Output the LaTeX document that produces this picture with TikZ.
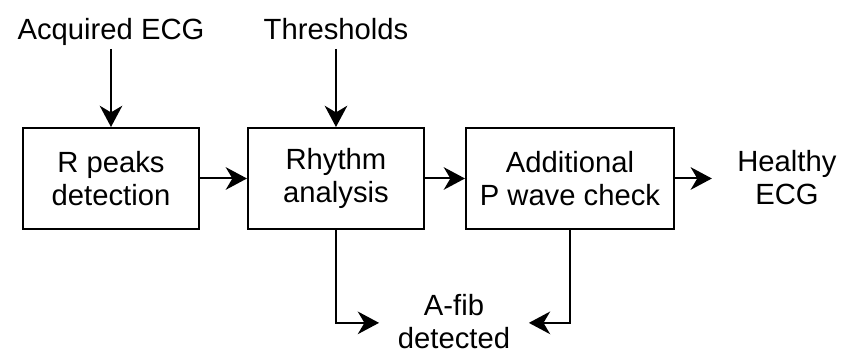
\documentclass[tikz,border=0pt]{standalone}
\usepackage{fontspec}
\setmainfont{Liberation Sans}
\usetikzlibrary{arrows.meta}

\tikzstyle{block} = [rectangle, minimum width=4.657cm, minimum height=2.672cm,
text centered, align=center, draw=black, line width=1.5pt]
\tikzstyle{txt} = [align=center, inner sep=5pt, text depth=0.2em]
\tikzstyle{conn} = [line width=1.5pt, -{Stealth[length=16pt, width=17pt, inset=5pt]}]

\begin{document}
\begin{tikzpicture}[font=\fontsize{22}{24.5}\selectfont, node distance=1cm]
  \useasboundingbox (-2.937,4.723) rectangle (19.316,-4.643);
  \node (rpeaks) [block] {R peaks\\detection};
  \node (rhythm) [block, right of=rpeaks, xshift=4.953cm] {Rhythm\\analysis};
  \node (pwave) [block, right of=rhythm, xshift=5.191cm, minimum width=5.503cm] {Additional\\P wave check};
  \node (ecg) [txt, above of=rpeaks, yshift=2.929cm] {Acquired ECG};
  \node (thr) [txt, above of=rhythm, yshift=2.929cm] {Thresholds};
  \node (healthy) [txt, right of=pwave, xshift=4.741cm] {Healthy\\ECG};
  \node (afib) [txt, below of=rhythm, xshift=3.122cm, yshift=-2.82cm] {A-fib\\detected};
  % connections
  \draw [conn] (ecg) -- (rpeaks);
  \draw [conn] (thr) -- (rhythm);
  \draw [conn] (rpeaks) -- (rhythm);
  \draw [conn] (rhythm) -- (pwave);
  \draw [conn, shorten >=14pt] (pwave) -- (healthy);
  \draw [conn, shorten >=9pt] (rhythm) |- (afib);
  \draw [conn, shorten >=9pt] (pwave) |- (afib);
\end{tikzpicture}
\end{document}
